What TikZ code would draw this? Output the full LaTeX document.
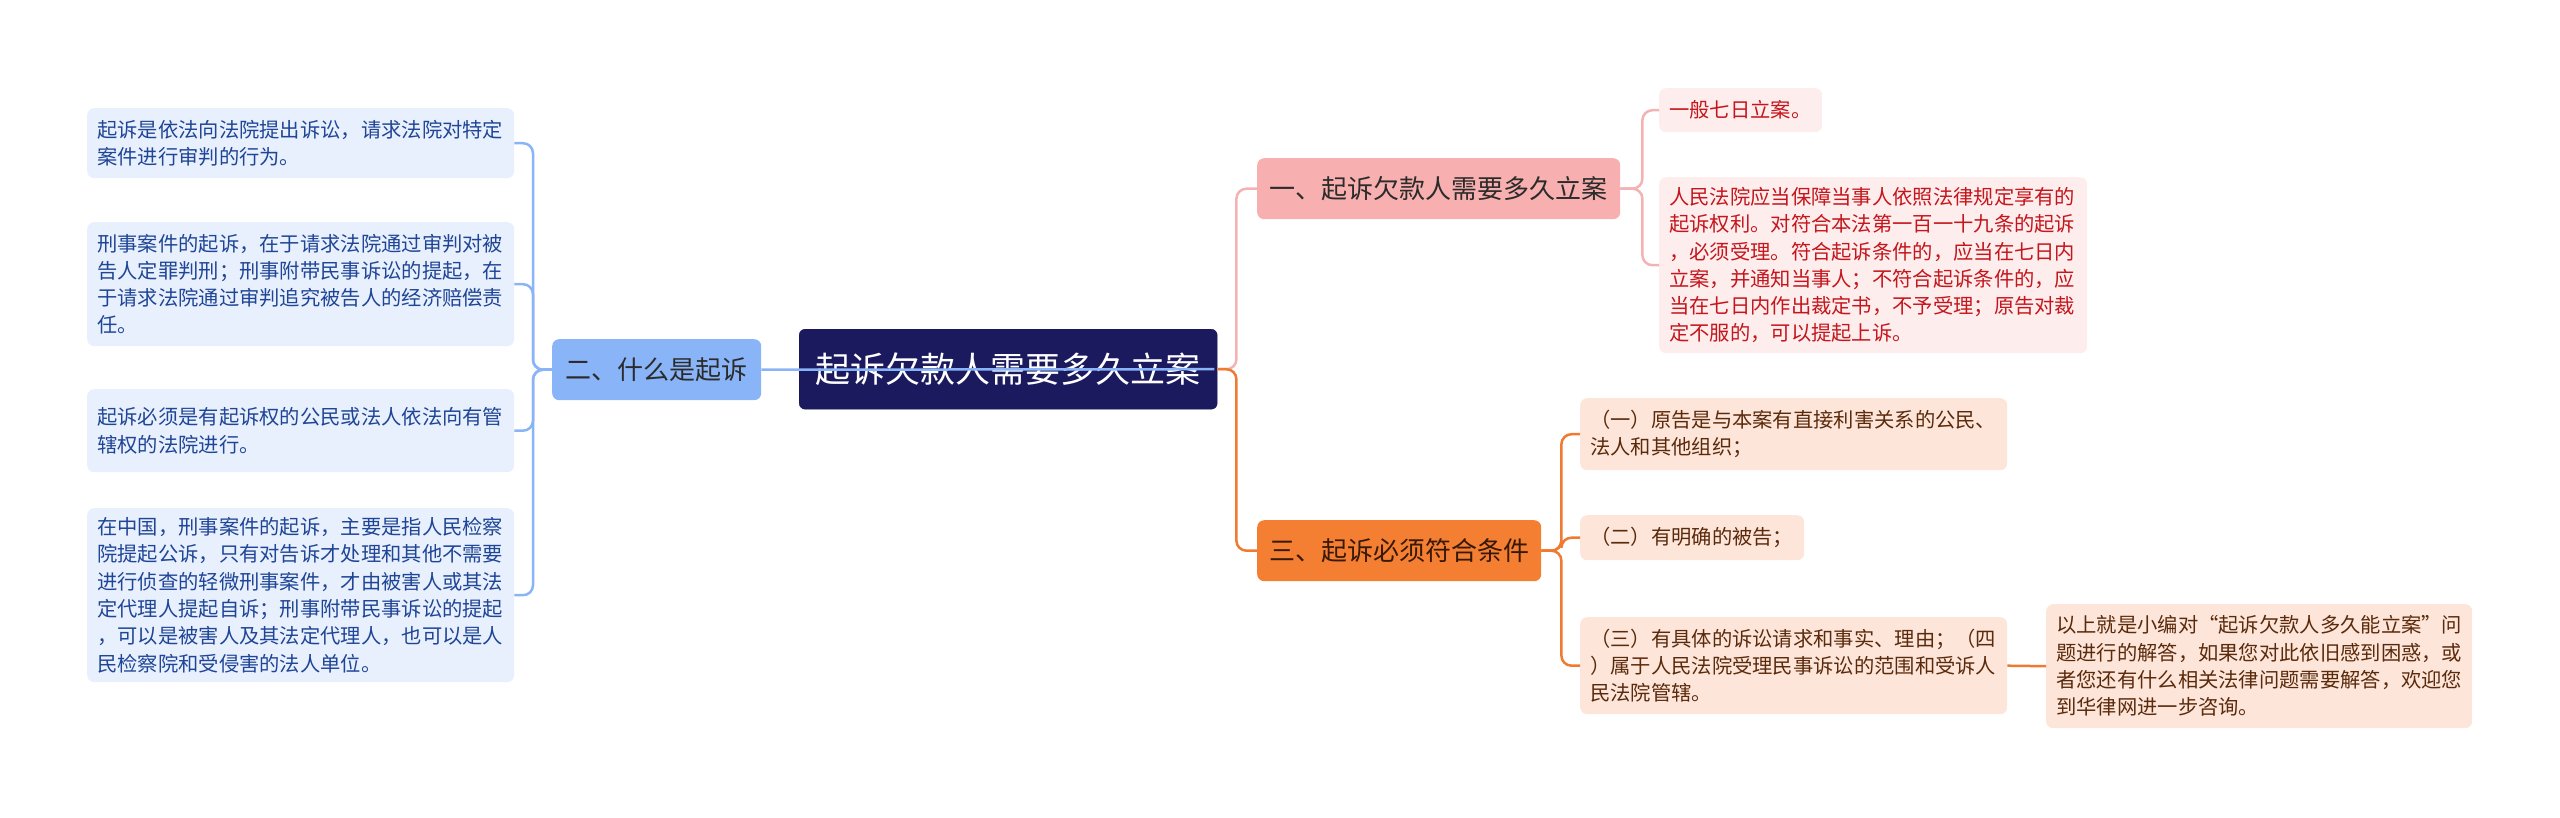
\documentclass[tikz,border=0pt]{standalone}
\usepackage{fontspec}
\newfontfamily\cjk{Noto Sans CJK SC}
\definecolor{lbfill}{HTML}{E8F0FD}
\definecolor{lbtext}{HTML}{1F4596}
\definecolor{bline}{HTML}{8AB4F8}
\definecolor{bfill}{HTML}{8AB4F8}
\definecolor{navy}{HTML}{1C1A5E}
\definecolor{pfill}{HTML}{F8AFAF}
\definecolor{pline}{HTML}{F4B3B3}
\definecolor{plfill}{HTML}{FDEDED}
\definecolor{ptext}{HTML}{C4161C}
\definecolor{ofill}{HTML}{F47E32}
\definecolor{oline}{HTML}{EF7A30}
\definecolor{olfill}{HTML}{FDE6D9}
\definecolor{otext}{HTML}{5B2A0C}
\definecolor{dtext}{HTML}{2B2B2B}
\begin{document}
\begin{tikzpicture}[x=1pt,y=-1pt,
  box/.style={anchor=north west, rounded corners=7pt, inner xsep=10pt, inner ysep=0pt},
  leaf/.style={box, align=left, font=\cjk\fontsize{20.3}{27.3}\selectfont},
  lbleaf/.style={leaf, fill=lbfill, text=lbtext},
  pleaf/.style={leaf, fill=plfill, text=ptext},
  oleaf/.style={leaf, fill=olfill, text=otext},
  branch/.style={box, align=center, font=\cjk\fontsize{26}{30}\selectfont, text=dtext},
  conn/.style={line width=2.5pt, rounded corners=10pt},
  bl/.style={conn, draw=bline},
  pl/.style={conn, draw=pline},
  ol/.style={conn, draw=oline}]
\useasboundingbox (0,0) rectangle (2560,817);
% left leaves
\node[lbleaf, text width=407pt, minimum height=70pt] (L1) at (87,108)
  {起诉是依法向法院提出诉讼，请求法院对特定\\案件进行审判的行为。};
\node[lbleaf, text width=407pt, minimum height=124pt] (L2) at (87,222)
  {刑事案件的起诉，在于请求法院通过审判对被\\告人定罪判刑；刑事附带民事诉讼的提起，在\\于请求法院通过审判追究被告人的经济赔偿责\\任。};
\node[lbleaf, text width=407pt, minimum height=83pt] (L3) at (87,389)
  {起诉必须是有起诉权的公民或法人依法向有管\\辖权的法院进行。};
\node[lbleaf, text width=407pt, minimum height=174pt] (L4) at (87,508)
  {在中国，刑事案件的起诉，主要是指人民检察\\院提起公诉，只有对告诉才处理和其他不需要\\进行侦查的轻微刑事案件，才由被害人或其法\\定代理人提起自诉；刑事附带民事诉讼的提起\\，可以是被害人及其法定代理人，也可以是人\\民检察院和受侵害的法人单位。};
% branches
\node[branch, fill=bfill, minimum width=209pt, minimum height=61pt] (B2) at (552,339) {二、什么是起诉};
\node[box, fill=navy, draw=navy!80!black, text=white, rounded corners=6pt, minimum width=418pt, minimum height=80pt,
  font=\cjk\fontsize{35}{40}\selectfont] (C) at (799,329) {起诉欠款人需要多久立案};
\node[branch, fill=pfill, minimum width=363pt, minimum height=61pt] (B1) at (1257,158) {一、起诉欠款人需要多久立案};
\node[branch, fill=ofill, text=otext!60!black, minimum width=284pt, minimum height=61pt] (B3) at (1257,520) {三、起诉必须符合条件};
% pink leaves
\node[pleaf, text width=143pt, minimum height=44pt] (A1) at (1659,88) {一般七日立案。};
\node[pleaf, text width=408pt, minimum height=176pt] (A2) at (1659,177)
  {人民法院应当保障当事人依照法律规定享有的\\起诉权利。对符合本法第一百一十九条的起诉\\，必须受理。符合起诉条件的，应当在七日内\\立案，并通知当事人；不符合起诉条件的，应\\当在七日内作出裁定书，不予受理；原告对裁\\定不服的，可以提起上诉。};
% orange leaves
\node[oleaf, text width=407pt, minimum height=72pt] (D1) at (1580,398)
  {（一）原告是与本案有直接利害关系的公民、\\法人和其他组织；};
\node[oleaf, text width=204pt, minimum height=45pt] (D2) at (1580,515) {（二）有明确的被告；};
\node[oleaf, text width=407pt, minimum height=97pt] (D3) at (1580,617)
  {（三）有具体的诉讼请求和事实、理由；（四\\）属于人民法院受理民事诉讼的范围和受诉人\\民法院管辖。};
\node[oleaf, text width=406pt, minimum height=124pt] (E) at (2046,604)
  {以上就是小编对“起诉欠款人多久能立案”问\\题进行的解答，如果您对此依旧感到困惑，或\\者您还有什么相关法律问题需要解答，欢迎您\\到华律网进一步咨询。};
% connectors
\foreach \t in {L1,L2,L3,L4} \draw[bl] (B2.west) -- ++(-19,0) |- (\t.east);
\draw[bl] (B2.east) -- ([xshift=-3pt]C.east);
\draw[pl] (C.east) -- ++(19,0) |- (B1.west);
\draw[ol] (C.east) -- ++(19,0) |- (B3.west);
\foreach \t in {A1,A2} \draw[pl] (B1.east) -- ++(22,0) |- (\t.west);
\foreach \t in {D1,D2,D3} \draw[ol] (B3.east) -- ++(20,0) |- (\t.west);
\draw[ol] (D3.east) -- (E.west);
\end{tikzpicture}
\end{document}
